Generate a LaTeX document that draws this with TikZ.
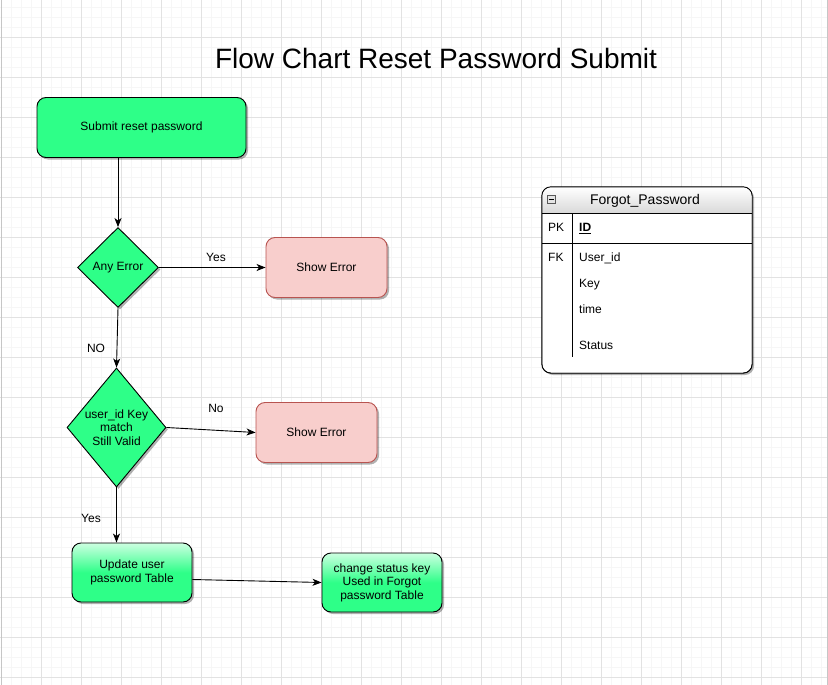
\documentclass[tikz,border=0pt]{standalone}
\usepackage{fontspec}
\setmainfont{Liberation Sans}
\usetikzlibrary{shapes,arrows.meta,positioning,shadows}

\definecolor{flowgreen}{RGB}{46,255,136}
\definecolor{glassgreen}{RGB}{205,255,225}
\definecolor{errfill}{RGB}{248,206,204}
\definecolor{errline}{RGB}{184,84,80}
\definecolor{gridmajor}{RGB}{226,226,226}
\definecolor{gridminor}{RGB}{246,246,246}

\tikzset{
    txt/.style={font={\fontsize{12}{13.5}\selectfont}, inner sep=0pt},
    boxshadow/.style={drop shadow={shadow xshift=2pt, shadow yshift=-2pt, opacity=0.3, fill=black}},
    stepbox/.style={txt, draw=black, line width=0.9pt, fill=flowgreen, rounded corners=9pt, boxshadow, align=center},
    glassbox/.style={txt, draw=black, line width=0.9pt, rounded corners=9pt, boxshadow, align=center,
        top color=glassgreen, bottom color=flowgreen, middle color=flowgreen},
    errbox/.style={txt, draw=errline, line width=0.9pt, fill=errfill, rounded corners=9pt, boxshadow,
        minimum width=121pt, minimum height=60pt},
    decide/.style={txt, diamond, draw=black, line width=0.9pt, fill=flowgreen, boxshadow, align=center},
    flow/.style={-{Stealth[length=9pt, width=7pt, inset=2.5pt]}, black, line width=0.9pt},
    field/.style={txt, anchor=west, text height=8.6pt, text depth=1.4pt}
}

\begin{document}
\begin{tikzpicture}[x=1pt, y=-1pt]
    \useasboundingbox (0,0) rectangle (828,685);

    % Grid background
    \foreach \gx in {1,11,...,821} \draw[gridminor] (\gx,0) -- (\gx,685);
    \foreach \gy in {7,17,...,685} \draw[gridminor] (0,\gy) -- (828,\gy);
    \foreach \gx in {1,41,...,821} \draw[gridmajor] (\gx,0) -- (\gx,685);
    \foreach \gy in {37,77,...,685} \draw[gridmajor] (0,\gy) -- (828,\gy);
    \draw[gray!45] (1,0) -- (1,685);
    \draw[gray!45] (827,0) -- (827,685);

    % Title
    \node[font={\fontsize{28}{32}\selectfont}] (title) at (436,58) {Flow Chart Reset Password Submit};

    % Flow nodes
    \node[stepbox, minimum width=209pt, minimum height=60pt] (submit) at (141.5,127.5) {Submit reset password};
    \node[decide, minimum width=81pt, minimum height=80pt] (anyerr) at (118,267.5) {Any Error};
    \node[errbox] (showerr) at (326.5,267.5) {Show Error};
    \node[decide, aspect=0.83, minimum width=99pt, minimum height=119pt, inner sep=-3pt] (valid) at (116.5,427.5)
        {user\_id Key\\match\\Still Valid};
    \node[errbox] (showerrb) at (316.5,432.5) {Show Error};
    \node[glassbox, minimum width=120pt, minimum height=59pt] (update) at (132,572.5) {Update user\\password Table};
    \node[glassbox, minimum width=120pt, minimum height=59pt] (change) at (382,582.5)
        {change status key\\Used in Forgot\\password Table};

    % Connectors
    \draw[flow] (anyerr.north |- submit.south) -- (anyerr.north);
    \draw[flow] (anyerr.east) -- (showerr.west);
    \draw[flow] (anyerr.south) -- (valid.north);
    \draw[flow] (valid.east) -- (showerrb.west);
    \draw[flow] (valid.south) -- (valid.south |- update.north);
    \draw[flow] ([yshift=-7pt]update.east) -- (change.west);

    % Connector labels
    \node[txt] (lblyes) at (216,257.5) {Yes};
    \node[txt] (lblno) at (96,348.5) {NO};
    \node[txt] (lblnob) at (216,408.5) {No};
    \node[txt] (lblyesb) at (91,518.5) {Yes};

    % Table Forgot_Password
    \node[draw=black, fill=white, rounded corners=9pt, boxshadow, minimum width=210pt, minimum height=186pt,
        inner sep=0pt] (fp) at (647,280) {};
    \shade[top color=white, bottom color=gray!30] (542,213) [rounded corners=9pt] -- (542,187) -- (752,187)
        [sharp corners] -- (752,213) -- cycle;
    \draw[line width=0.9pt, rounded corners=9pt] (fp.south west) rectangle (fp.north east);
    \draw[line width=0.9pt] (542,213) -- (752,213);
    \draw[line width=0.9pt] (542,243) -- (752,243);
    \draw[line width=0.9pt] (572,213) -- (572,357);
    % collapse icon
    \draw[gray!70!black, fill=gray!20] (547,195) rectangle (555,203);
    \draw[black] (548.5,199) -- (553.5,199);

    \node[txt, font={\fontsize{14}{16}\selectfont}] (fptitle) at (645,201) {Forgot\_Password};
    \node[field] (pk) at (548,228) {PK};
    \node[field, font={\fontsize{12}{13.5}\selectfont\bfseries}] (fid) at (579,228) {\underline{ID}};
    \node[field] (fk) at (548,258) {FK};
    \node[field] (fuser) at (579,258) {User\_id};
    \node[field] (fkey) at (579,284) {Key};
    \node[field] (ftime) at (579,310) {time};
    \node[field] (fstatus) at (579,346) {Status};
\end{tikzpicture}
\end{document}
